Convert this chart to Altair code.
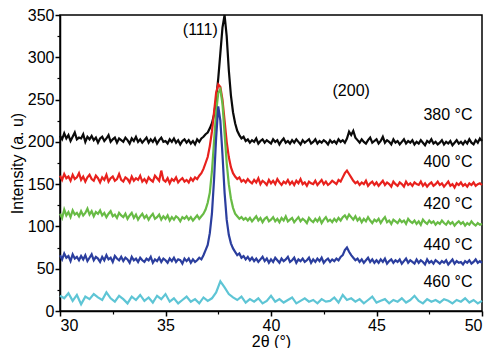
import altair as alt
import pandas as pd

# 2-theta sampling grid (0.1 deg for the dense scans, 0.2 deg for the 460 C scan)
angles_fine = [round(30 + i * 0.1, 1) for i in range(201)]
angles_coarse = [round(30 + i * 0.2, 1) for i in range(101)]

i380 = [
    207,203,210,204,208,201,206,211,203,205,
    204,209,200,206,203,207,202,205,199,204,
    206,201,204,208,200,203,205,199,204,202,
    200,205,202,198,204,201,206,200,203,199,
    202,205,199,203,200,204,198,202,205,200,
    201,198,203,200,204,199,202,197,201,203,
    199,202,198,201,197,203,200,204,206,209,
    211,216,222,232,250,275,305,335,350,325,
    285,255,235,222,213,208,204,206,201,203,
    199,202,200,204,198,201,203,199,202,200,
    198,203,200,202,197,201,204,199,201,198,
    202,199,203,200,197,202,199,201,203,198,
    200,203,198,201,199,202,200,197,202,199,
    201,198,203,200,202,199,204,212,208,213,
    205,202,199,203,200,198,202,205,199,201,
    203,198,201,206,199,202,200,197,203,199,
    201,197,200,203,198,201,199,202,197,200,
    198,202,199,196,201,199,203,198,200,197,
    199,202,197,200,198,201,196,199,202,198,
    200,197,201,198,203,199,197,202,199,204,
    201]

i400 = [
    160,155,162,157,159,154,161,156,158,163,
    155,159,153,158,161,156,154,160,157,152,
    158,155,161,153,157,159,154,156,162,155,
    153,158,156,152,159,154,157,155,160,153,
    156,152,158,155,153,160,157,154,166,155,
    153,157,151,156,154,158,152,155,157,153,
    155,152,157,154,158,156,160,163,168,175,
    182,195,212,235,258,268,265,250,225,200,
    182,170,163,159,156,158,153,155,152,156,
    153,151,155,152,157,150,154,152,149,155,
    151,154,150,156,152,149,153,151,155,150,
    153,149,154,151,156,150,152,148,153,151,
    150,154,149,152,155,150,153,149,151,154,
    152,150,155,153,158,163,166,162,158,154,
    151,153,149,152,150,154,148,151,153,149,
    152,148,151,154,149,152,150,147,153,150,
    148,152,150,147,153,149,151,148,152,150,
    149,153,148,151,147,150,152,148,150,153,
    149,151,147,150,153,148,150,146,151,149,
    152,148,150,147,151,149,152,148,150,151,
    149]

i420 = [
    115,110,120,113,117,111,119,114,116,112,
    118,113,116,121,114,118,112,117,115,119,
    113,116,111,115,118,112,114,110,116,113,
    111,115,109,113,116,110,114,108,112,115,
    110,113,108,112,115,109,111,114,108,112,
    109,113,107,111,108,112,110,106,111,109,
    112,108,111,107,110,113,109,112,115,120,
    128,140,165,200,235,258,262,245,210,175,
    150,133,122,115,112,109,111,108,110,107,
    110,106,109,112,107,110,105,109,111,106,
    108,111,106,109,105,110,107,112,106,108,
    110,105,108,111,106,109,107,104,110,107,
    105,109,106,110,104,108,111,106,108,105,
    109,106,110,107,111,113,109,114,111,108,
    112,107,110,105,109,106,111,107,104,108,
    106,109,104,108,111,105,107,103,108,106,
    104,108,105,107,103,109,106,104,107,103,
    106,102,108,105,103,107,104,106,102,105,
    103,107,104,102,106,103,105,101,104,106,
    103,105,101,104,102,106,103,101,104,102,
    103]

i440 = [
    66,61,68,63,65,59,67,62,64,60,
    65,61,66,59,63,67,60,64,62,58,
    64,60,66,61,63,58,65,62,60,64,
    59,63,61,57,64,60,62,58,63,60,
    58,62,60,64,57,61,59,63,58,62,
    60,57,62,59,63,58,61,60,56,62,
    59,62,57,61,58,60,63,61,66,72,
    78,92,115,155,205,242,225,185,140,108,
    90,80,74,70,66,68,63,65,61,64,
    60,63,59,62,58,61,64,59,62,57,
    61,58,63,60,57,62,59,61,64,58,
    60,63,57,61,59,62,58,60,63,57,
    61,58,62,59,63,57,60,62,58,61,
    59,62,60,64,66,72,75,70,66,63,
    60,62,58,61,57,60,63,58,61,57,
    60,57,61,58,62,56,59,61,57,60,
    58,61,56,59,62,57,60,58,56,61,
    57,60,58,55,61,57,59,56,60,58,
    56,59,57,60,55,58,61,56,59,57,
    58,55,59,57,60,56,58,61,57,59,
    57]

i460 = [
    18,15,21,12,19,8,17,14,20,16,
    13,22,15,11,18,14,9,17,13,19,
    12,16,10,18,14,20,11,15,9,13,
    17,11,14,9,16,12,15,22,35,28,
    20,16,13,17,10,14,11,15,9,12,
    18,11,14,10,13,16,9,12,15,11,
    13,9,14,11,12,16,10,19,13,15,
    11,14,9,13,17,10,12,14,9,13,
    11,15,10,13,18,12,9,14,11,13,
    10,14,12,9,13,11,15,10,13,9,
    12]

series_names = ["380 °C", "400 °C", "420 °C", "440 °C", "460 °C"]
series_colors = ["#0a0a0a", "#e8211d", "#68bb45", "#2b3e9e", "#5ec5d5"]

rows = []
for name, xs, ys in [
    (series_names[0], angles_fine, i380),
    (series_names[1], angles_fine, i400),
    (series_names[2], angles_fine, i420),
    (series_names[3], angles_fine, i440),
    (series_names[4], angles_coarse, i460),
]:
    for o, (a, v) in enumerate(zip(xs, ys)):
        rows.append({"angle": a, "intensity": v, "series": name, "o": o})
df = pd.DataFrame(rows)

# annotations
ann_text = ["(111)", "(200)", "380 °C", "400 °C", "420 °C", "440 °C", "460 °C"]
ann_x = [36.65, 43.8, 49.55, 49.55, 49.55, 49.55, 49.55]
ann_y = [332, 260, 232, 176, 127, 78, 34]
ann_align = ["center", "center", "right", "right", "right", "right", "right"]
ann = pd.DataFrame({"t": ann_text, "x": ann_x, "y": ann_y, "al": ann_align})

FONT = "Liberation Sans"
xscale = alt.Scale(domain=[30, 50], nice=False, zero=False)
yscale = alt.Scale(domain=[0, 350], nice=False, zero=False)

x_major = alt.Axis(values=[30, 35, 40, 45, 50], title="2θ (°)", tickSize=5,
                   labelFontSize=16, titleFontSize=16, labelFont=FONT, titleFont=FONT,
                   labelColor="black", titleColor="black", tickColor="black",
                   domainColor="black", domainWidth=1.5, tickWidth=1.5,
                   grid=False, labelPadding=1, titlePadding=0, titleFontWeight="normal",
                   orient="bottom")
y_major = alt.Axis(values=[0, 50, 100, 150, 200, 250, 300, 350], title="Intensity (a. u)",
                   tickSize=5, labelFontSize=16, titleFontSize=16, labelFont=FONT,
                   titleFont=FONT, labelColor="black", titleColor="black",
                   tickColor="black", domainColor="black", domainWidth=1.5, tickWidth=1.5,
                   grid=False, labelPadding=1, titlePadding=2, titleFontWeight="normal",
                   orient="left")
x_minor = alt.Axis(values=[32.5, 37.5, 42.5, 47.5], title=None, labels=False, tickSize=3,
                   tickColor="black", tickWidth=1.2, domain=False, grid=False, orient="bottom")
y_minor = alt.Axis(values=[25, 75, 125, 175, 225, 275, 325], title=None, labels=False,
                   tickSize=3, tickColor="black", tickWidth=1.2, domain=False, grid=False,
                   orient="left")

lines = alt.Chart(df).mark_line(strokeWidth=2.2).encode(
    x=alt.X("angle:Q", scale=xscale, axis=x_major),
    y=alt.Y("intensity:Q", scale=yscale, axis=y_major),
    color=alt.Color("series:N", scale=alt.Scale(domain=series_names, range=series_colors),
                    legend=None),
    order="o:Q",
)

minor = alt.Chart(df).mark_line(opacity=0).encode(
    x=alt.X("angle:Q", scale=xscale, axis=x_minor),
    y=alt.Y("intensity:Q", scale=yscale, axis=y_minor),
    detail="series:N",
)

texts_c = alt.Chart(ann[ann.al == "center"]).mark_text(
    fontSize=16, font=FONT, color="black", baseline="middle", align="center").encode(
    x=alt.X("x:Q", scale=xscale, axis=None),
    y=alt.Y("y:Q", scale=yscale, axis=None),
    text="t:N",
)
texts_r = alt.Chart(ann[ann.al == "right"]).mark_text(
    fontSize=16, font=FONT, color="black", baseline="middle", align="right").encode(
    x=alt.X("x:Q", scale=xscale, axis=None),
    y=alt.Y("y:Q", scale=yscale, axis=None),
    text="t:N",
)

chart = alt.layer(lines, minor, texts_c, texts_r).resolve_axis(
    x="independent", y="independent"
).properties(
    width=422, height=296,
    padding={"left": 52, "top": 7, "right": 10, "bottom": 37},
    autosize=alt.AutoSizeParams(type="none"),
    background="white",
).configure_view(stroke="black", strokeWidth=1.5)

chart.save("out.html", embed_options={"renderer": "svg", "actions": False})
